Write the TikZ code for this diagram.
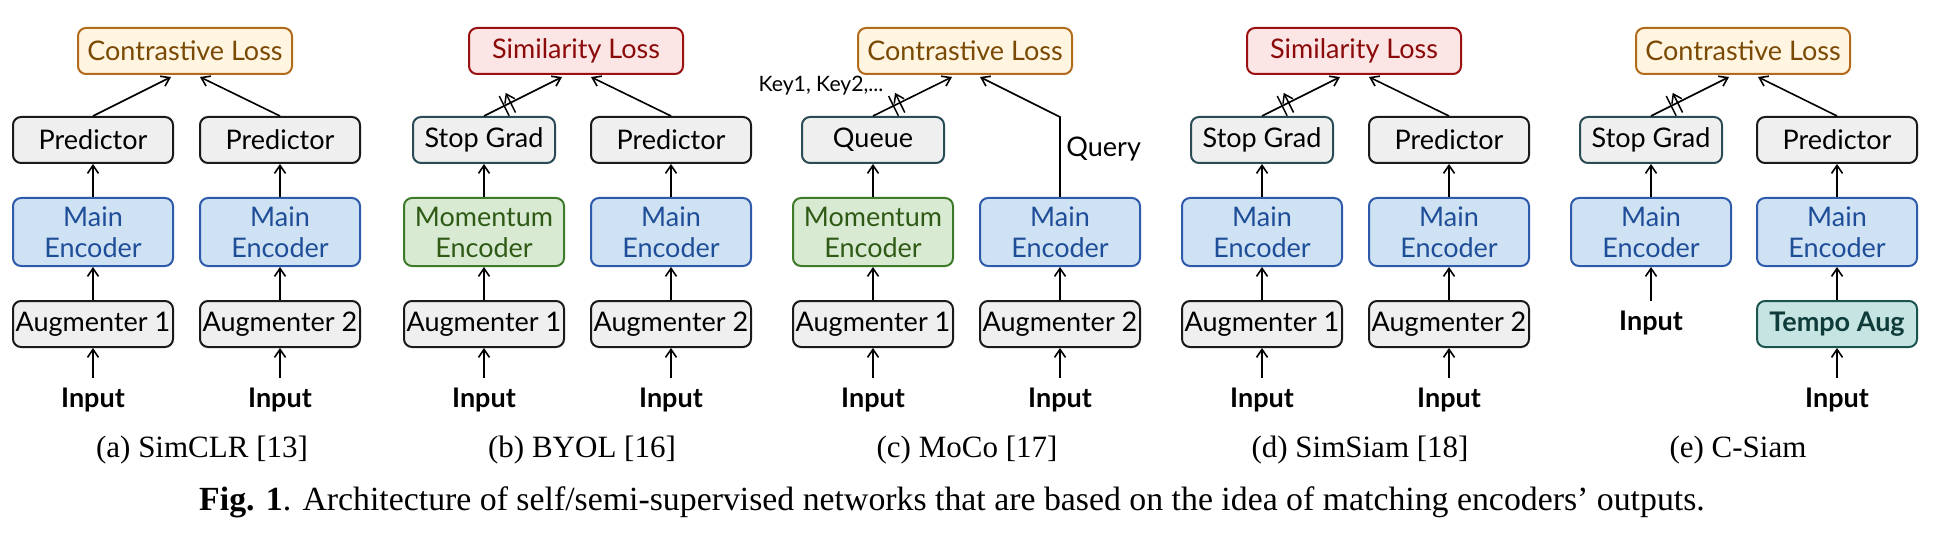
\documentclass[tikz,border=0pt]{standalone}
\usepackage{fontspec}
\setmainfont{Liberation Serif}
\newfontfamily\latofam{Lato}
\usetikzlibrary{arrows.meta,calc,decorations.markings}
\newcommand\bxfont{\latofam\fontsize{13.5}{15.5}\selectfont}
\newcommand\inpfont{\latofam\bfseries\fontsize{13.5}{15.5}\selectfont}
\newcommand\keyfont{\latofam\fontsize{10.6}{12}\selectfont}
\newcommand\subcapfont{\fontsize{15.5}{17}\selectfont}
\newcommand\figcapfont{\fontsize{16.9}{18}\selectfont}
\definecolor{grayfill}{HTML}{EFEFEF}
\definecolor{grayline}{HTML}{1A1A1A}
\definecolor{slateline}{HTML}{2A4B55}
\definecolor{clfill}{HTML}{FFF5E1}
\definecolor{clline}{HTML}{B26B1A}
\definecolor{cltext}{HTML}{7A4A05}
\definecolor{slfill}{HTML}{FCE5E5}
\definecolor{slline}{HTML}{9B1111}
\definecolor{sltext}{HTML}{8B0A0A}
\definecolor{mefill}{HTML}{CFE2F3}
\definecolor{meline}{HTML}{2E5AAC}
\definecolor{metext}{HTML}{1F4E99}
\definecolor{mofill}{HTML}{D9EAD3}
\definecolor{moline}{HTML}{3D7A2A}
\definecolor{motext}{HTML}{2F5A16}
\definecolor{tafill}{HTML}{C6E5E2}
\definecolor{taline}{HTML}{1C5550}
\definecolor{tatext}{HTML}{0F3B3A}
\tikzset{
  bx/.style={draw, rounded corners=4pt, line width=1pt, minimum height=23pt, inner sep=0pt, align=center, font=\bxfont},
  gbox/.style={bx, fill=grayfill, draw=grayline, minimum width=80pt},
  sgbox/.style={bx, fill=grayfill, draw=slateline, minimum width=71pt},
  mainenc/.style={bx, fill=mefill, draw=meline, text=metext, minimum width=80pt, minimum height=34pt},
  momenc/.style={bx, fill=mofill, draw=moline, text=motext, minimum width=80pt, minimum height=34pt},
  closs/.style={bx, fill=clfill, draw=clline, text=cltext, minimum width=107pt},
  sloss/.style={bx, fill=slfill, draw=slline, text=sltext, minimum width=107pt},
  tempo/.style={bx, fill=tafill, draw=taline, text=tatext, minimum width=80pt, font=\inpfont},
  inp/.style={font=\inpfont, anchor=base, text height=10pt, text depth=0pt, inner xsep=2pt, inner ysep=4.5pt},
  arr/.style={-{Straight Barb[length=4pt,width=5.5pt]}, line width=0.8pt},
  sgmark/.style={postaction={decorate, decoration={markings, mark=at position 0.3 with {\draw[line width=0.75pt] (-1.8pt,-5.5pt)--(-1.8pt,5.5pt) (1.8pt,-5.5pt)--(1.8pt,5.5pt);}}}},
  subcap/.style={font=\subcapfont, anchor=base}
}
\begin{document}
\begin{tikzpicture}[x=0.5pt,y=-0.5pt]
\useasboundingbox (0,0) rectangle (1942,534);
% ---------- (a) SimCLR
\begin{scope}[shift={(93,0)}]
\node[closs] (aL) at (92,51) {Contrastive Loss};
\node[gbox] (aP1) at (0,140) {Predictor};
\node[gbox] (aP2) at (187,140) {Predictor};
\node[mainenc] (aE1) at (0,232) {Main\\Encoder};
\node[mainenc] (aE2) at (187,232) {Main\\Encoder};
\node[gbox] (aA1) at (0,324) {Augmenter 1};
\node[gbox] (aA2) at (187,324) {Augmenter 2};
\node[inp] (aI1) at (0,407) {Input};
\node[inp] (aI2) at (187,407) {Input};
\draw[arr] (aI1.north) -- (aA1.south);
\draw[arr] (aI2.north) -- (aA2.south);
\draw[arr] (aA1) -- (aE1);
\draw[arr] (aA2) -- (aE2);
\draw[arr] (aE1) -- (aP1);
\draw[arr] (aE2) -- (aP2);
\draw[arr] (aP1.north) -- ($(aL.south)+(-14,2)$);
\draw[arr] (aP2.north) -- ($(aL.south)+(15,2)$);
\end{scope}
% ---------- (b) BYOL
\begin{scope}[shift={(484,0)}]
\node[sloss] (bL) at (92,51) {Similarity Loss};
\node[sgbox] (bS1) at (0,140) {Stop Grad};
\node[gbox] (bP2) at (187,140) {Predictor};
\node[momenc] (bE1) at (0,232) {Momentum\\Encoder};
\node[mainenc] (bE2) at (187,232) {Main\\Encoder};
\node[gbox] (bA1) at (0,324) {Augmenter 1};
\node[gbox] (bA2) at (187,324) {Augmenter 2};
\node[inp] (bI1) at (0,407) {Input};
\node[inp] (bI2) at (187,407) {Input};
\draw[arr] (bI1.north) -- (bA1.south);
\draw[arr] (bI2.north) -- (bA2.south);
\draw[arr] (bA1) -- (bE1);
\draw[arr] (bA2) -- (bE2);
\draw[arr] (bE1) -- (bS1);
\draw[arr] (bE2) -- (bP2);
\draw[arr, sgmark] (bS1.north) -- ($(bL.south)+(-14,2)$);
\draw[arr] (bP2.north) -- ($(bL.south)+(15,2)$);
\end{scope}
% ---------- (c) MoCo
\begin{scope}[shift={(873,0)}]
\node[closs] (cL) at (92,51) {Contrastive Loss};
\node[sgbox] (cQ1) at (0,140) {Queue};
\node[momenc] (cE1) at (0,232) {Momentum\\Encoder};
\node[mainenc] (cE2) at (187,232) {Main\\Encoder};
\node[gbox] (cA1) at (0,324) {Augmenter 1};
\node[gbox] (cA2) at (187,324) {Augmenter 2};
\node[inp] (cI1) at (0,407) {Input};
\node[inp] (cI2) at (187,407) {Input};
\coordinate (cbend) at (187,117);
\draw[arr] (cI1.north) -- (cA1.south);
\draw[arr] (cI2.north) -- (cA2.south);
\draw[arr] (cA1) -- (cE1);
\draw[arr] (cA2) -- (cE2);
\draw[arr] (cE1) -- (cQ1);
\draw[arr, sgmark] (cQ1.north) -- ($(cL.south)+(-13,2)$);
\draw[arr] (cE2.north) -- (cbend) -- ($(cL.south)+(15,2)$);
\node[font=\keyfont, anchor=base] (ckey) at (-52,92) {Key1, Key2,...};
\node[font=\bxfont, anchor=base west, inner sep=0pt] (cquery) at (193,157) {Query};
\end{scope}
% ---------- (d) SimSiam
\begin{scope}[shift={(1262,0)}]
\node[sloss] (dL) at (92,51) {Similarity Loss};
\node[sgbox] (dS1) at (0,140) {Stop Grad};
\node[gbox] (dP2) at (187,140) {Predictor};
\node[mainenc] (dE1) at (0,232) {Main\\Encoder};
\node[mainenc] (dE2) at (187,232) {Main\\Encoder};
\node[gbox] (dA1) at (0,324) {Augmenter 1};
\node[gbox] (dA2) at (187,324) {Augmenter 2};
\node[inp] (dI1) at (0,407) {Input};
\node[inp] (dI2) at (187,407) {Input};
\draw[arr] (dI1.north) -- (dA1.south);
\draw[arr] (dI2.north) -- (dA2.south);
\draw[arr] (dA1) -- (dE1);
\draw[arr] (dA2) -- (dE2);
\draw[arr] (dE1) -- (dS1);
\draw[arr] (dE2) -- (dP2);
\draw[arr, sgmark] (dS1.north) -- ($(dL.south)+(-14,2)$);
\draw[arr] (dP2.north) -- ($(dL.south)+(15,2)$);
\end{scope}
% ---------- (e) C-Siam
\begin{scope}[shift={(1651,0)}]
\node[closs] (eL) at (92,51) {Contrastive Loss};
\node[sgbox] (eS1) at (0,140) {Stop Grad};
\node[gbox] (eP2) at (186,140) {Predictor};
\node[mainenc] (eE1) at (0,232) {Main\\Encoder};
\node[mainenc] (eE2) at (186,232) {Main\\Encoder};
\node[tempo] (eT2) at (186,324) {Tempo Aug};
\node[inp] (eI1) at (0,330) {Input};
\node[inp] (eI2) at (186,407) {Input};
\draw[arr] (eI1.north) -- (eE1.south);
\draw[arr] (eI2.north) -- (eT2.south);
\draw[arr] (eT2) -- (eE2);
\draw[arr] (eE1) -- (eS1);
\draw[arr] (eE2) -- (eP2);
\draw[arr, sgmark] (eS1.north) -- ($(eL.south)+(-14,2)$);
\draw[arr] (eP2.north) -- ($(eL.south)+(15,2)$);
\end{scope}
% ---------- captions
\node[subcap] (capa) at (202,457) {(a) SimCLR [13]};
\node[subcap] (capb) at (582,457) {(b) BYOL [16]};
\node[subcap] (capc) at (967,457) {(c) MoCo [17]};
\node[subcap] (capd) at (1360,457) {(d) SimSiam [18]};
\node[subcap] (cape) at (1738,457) {(e) C-Siam};
\node[font=\figcapfont, anchor=base] (figcap) at (952,510) {\textbf{Fig. 1}. Architecture of self/semi-supervised networks that are based on the idea of matching encoders’ outputs.};
\end{tikzpicture}
\end{document}
